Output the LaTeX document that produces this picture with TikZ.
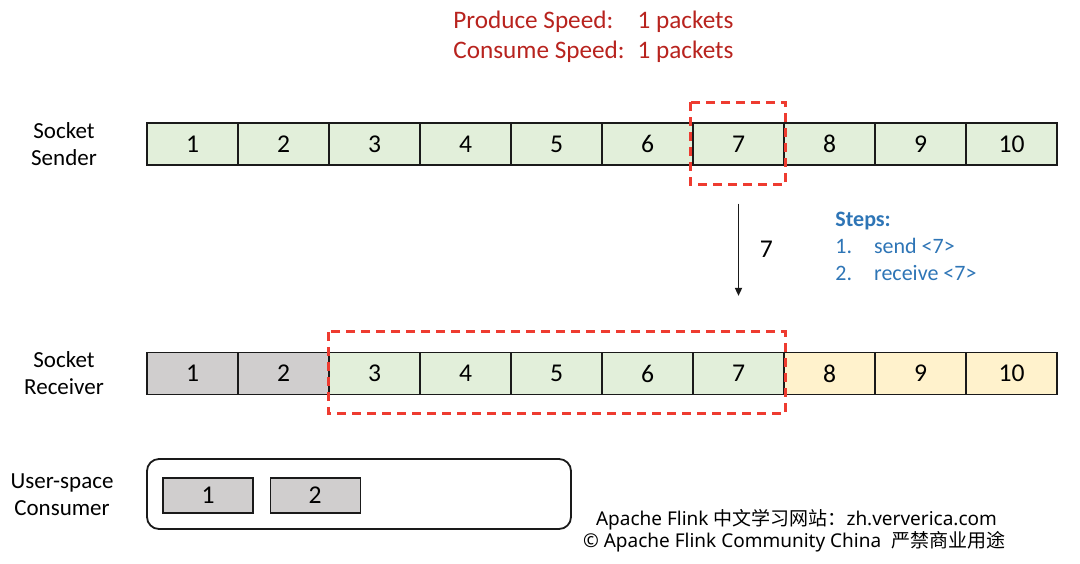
\documentclass[tikz,border=0pt]{standalone}
\usepackage{fontspec}
\setmainfont{Carlito}
\newfontfamily\notefont{Noto Sans}
\newfontfamily\cjkfont{Noto Sans CJK SC}
\usetikzlibrary{positioning,arrows.meta,calc}
\definecolor{ink}{HTML}{1A1A1A}
\definecolor{darkred}{HTML}{B8231E}
\definecolor{stepblue}{HTML}{2E75B6}
\definecolor{dashred}{HTML}{EE3B30}
\definecolor{greenfill}{HTML}{E2EFDA}
\definecolor{grayfill}{HTML}{D0CECE}
\definecolor{yellowfill}{HTML}{FFF2CC}
\tikzset{
  cell/.style={draw=ink,line width=0.6pt,fill=greenfill,minimum width=45.5pt,minimum height=21pt,inner sep=0pt,font=\fontsize{12.8}{14}\selectfont},
  done/.style={cell,fill=grayfill},
  waiting/.style={cell,fill=yellowfill},
  rowlabel/.style={align=center,font=\fontsize{11.5}{13.5}\selectfont},
  window/.style={draw=dashred,line width=1.5pt,dash pattern=on 4.5pt off 3pt},
  arrow/.style={-{Triangle[length=4pt,width=3.5pt]},draw=ink,line width=0.8pt},
  packet/.style={draw=ink,line width=0.6pt,fill=grayfill,minimum width=45pt,minimum height=17.5pt,inner sep=0pt,font=\fontsize{12.8}{14}\selectfont},
  note/.style={font=\notefont\fontsize{9.5}{11}\selectfont,anchor=west}
}
\begin{document}
\begin{tikzpicture}[x=0.5pt,y=-0.5pt]
  \useasboundingbox (0,0) rectangle (1080,563);
  % speeds
  \node[anchor=north west,inner sep=0pt,text=darkred,font=\fontsize{12.6}{15}\selectfont] (speed) at (453,7)
    {\begin{tabular}{@{}l@{\hspace{6.5pt}}l@{}}Produce Speed: & 1 packets\\[0pt] Consume Speed: & 1 packets\end{tabular}};
  % sender row
  \foreach \i in {1,...,10}
    \node[cell] (s\i) at (101.5+91*\i,144) {\i};
  % receiver row
  \foreach \i in {1,2}
    \node[done] (r\i) at (101.5+91*\i,373.5) {\i};
  \foreach \i in {3,...,7}
    \node[cell] (r\i) at (101.5+91*\i,373.5) {\i};
  \foreach \i in {8,9,10}
    \node[waiting] (r\i) at (101.5+91*\i,373.5) {\i};
  \node[rowlabel] (sender) at (64,144) {Socket\\Sender};
  \node[rowlabel] (receiver) at (64,373) {Socket\\Receiver};
  \node[rowlabel] (consumer) at (62,495) {User-space\\Consumer};
  % windows
  \draw[window] ($(s7.north west)+(-2,-20)$) rectangle ($(s7.south east)+(1,19)$);
  \draw[window] ($(r3.north west)+(0,-20)$) rectangle ($(r7.south east)+(1,18)$);
  % transfer
  \coordinate (out) at ($(s7.south)+(0,38)$);
  \coordinate (in) at ($(r7.north)+(0,-56)$);
  \draw[arrow] (out) -- node[right=7pt,font=\fontsize{12.8}{14}\selectfont] {7} (in);
  \node[anchor=north west,inner sep=0pt,text=stepblue,font=\fontsize{11}{13.5}\selectfont] (steps) at (835,207)
    {\begin{tabular}{@{}l@{\hspace{11pt}}l@{}}\multicolumn{2}{@{}l}{\bfseries Steps:}\\ 1. & send <7>\\ 2. & receive <7>\end{tabular}};
  % consumer
  \draw[draw=ink,line width=0.9pt,rounded corners=6pt] (147,459) rectangle (571,529);
  \node[packet] (c1) at (208,495.5) {1};
  \node[packet,right=8pt of c1] (c2) {2};
  % footer
  \node[note] (site) at (589,520) {Apache Flink {\cjkfont 中文学习网站：}zh.ververica.com};
  \node[note] (copy) at (576,542) {© Apache Flink Community China\ \ {\cjkfont 严禁商业用途}};
\end{tikzpicture}
\end{document}
